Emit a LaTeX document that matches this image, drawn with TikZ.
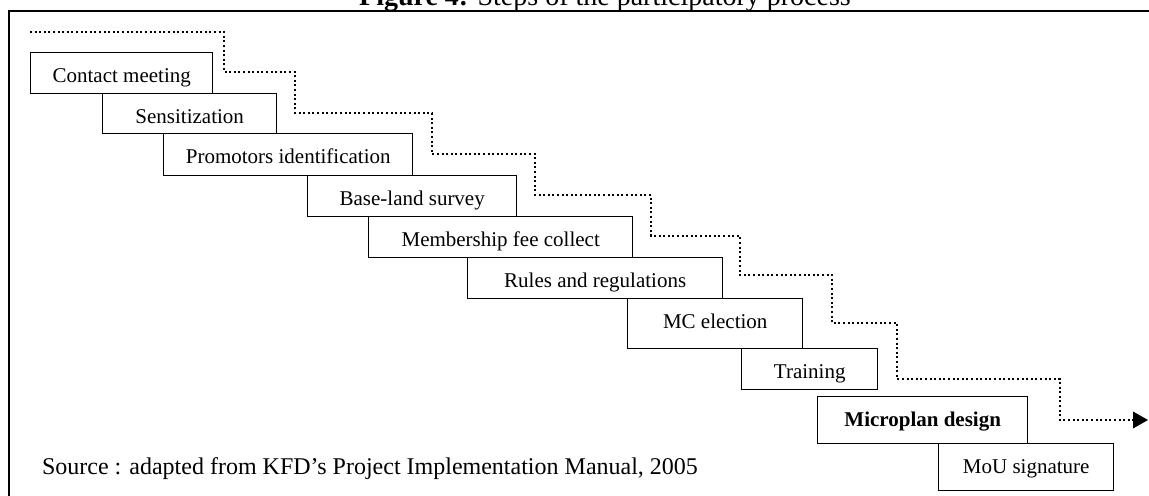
\documentclass[tikz,border=0pt]{standalone}
\usepackage{fontspec}
\setmainfont{Liberation Serif}
\usetikzlibrary{arrows.meta}

\begin{document}
\begin{tikzpicture}
  [
    x=0.5pt, y=-0.5pt,
    font=\fontsize{10.5}{12}\selectfont,
    frm/.style={line width=1pt},
    stp/.style={draw, line width=0.7pt, anchor=north west, inner sep=0pt,
                text height=15pt, text depth=5.5pt},
    stair/.style={line width=1pt, dash pattern=on 1pt off 1.3pt}
  ]
  \useasboundingbox (0,0) rectangle (1149,496);
  \node [anchor=base, font=\fontsize{14}{16}\selectfont] (ttl) at (605,6)
    {\textbf{Figure 4:} Steps of the participatory process};
  \draw [frm] (9,496) -- (9,11) -- (1160,11);
  % steps
  \node [stp, minimum width=91pt]                    (cm)   at (30,52)  {Contact meeting};
  \node [stp, minimum width=87pt, text depth=5pt]    (sens) at (102,93) {Sensitization\hspace{14pt}};
  \node [stp, minimum width=124.5pt, text depth=6pt] (prom) at (163,133) {Promotors identification};
  \node [stp, minimum width=104.5pt]                 (bls)  at (307,175) {Base-land survey};
  \node [stp, minimum width=132pt]                   (mfc)  at (368,216) {Membership fee collect};
  \node [stp, minimum width=127.5pt]                 (rr)   at (467,257) {Rules and regulations};
  \node [stp, minimum width=87.5pt, text depth=10pt] (mce)  at (627,298) {MC election};
  \node [stp, minimum width=68pt]                    (trn)  at (741,348) {Training};
  \node [stp, minimum width=105pt, text depth=8.5pt] (mpd)  at (817,396) {\textbf{Microplan design}};
  \node [stp, minimum width=87.5pt, text depth=8.5pt] (mou) at (938,443) {MoU signature};
  % dotted staircase
  \coordinate (D0)  at (30,32);
  \coordinate (D1)  at (224,32);
  \coordinate (D2)  at (224,72);
  \coordinate (D3)  at (295,72);
  \coordinate (D4)  at (295,113);
  \coordinate (D5)  at (432,113);
  \coordinate (D6)  at (432,154);
  \coordinate (D7)  at (535,154);
  \coordinate (D8)  at (535,195);
  \coordinate (D9)  at (651,195);
  \coordinate (D10) at (651,236);
  \coordinate (D11) at (740,236);
  \coordinate (D12) at (740,275);
  \coordinate (D13) at (832,275);
  \coordinate (D14) at (832,323);
  \coordinate (D15) at (897,323);
  \coordinate (D16) at (897,379);
  \coordinate (D17) at (1060,379);
  \coordinate (D18) at (1060,420);
  \coordinate (D19) at (1148,420);
  \draw [stair, -{Triangle[length=7.5pt, width=8.5pt, line width=0pt]}]
    (D0) -- (D1) -- (D2) -- (D3) -- (D4) -- (D5) -- (D6) -- (D7) -- (D8) -- (D9)
    -- (D10) -- (D11) -- (D12) -- (D13) -- (D14) -- (D15) -- (D16) -- (D17)
    -- (D18) -- (D19);
  \node [anchor=base west, font=\fontsize{12}{14}\selectfont] (src) at (35,474)
    {Source : adapted from KFD’s Project Implementation Manual, 2005};
\end{tikzpicture}
\end{document}
